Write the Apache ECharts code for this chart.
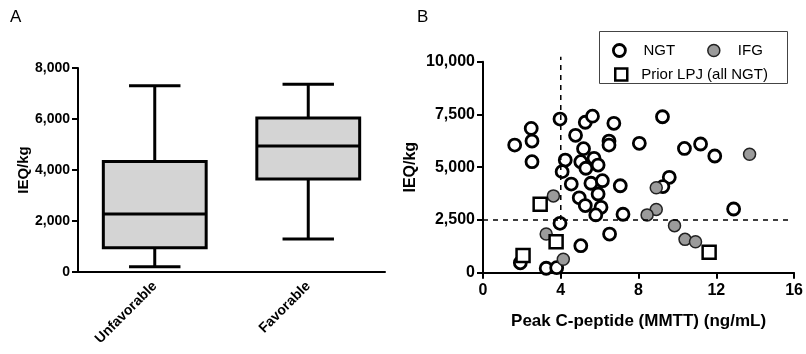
<!DOCTYPE html>
<html>
<head>
<meta charset="utf-8">
<script src="https://cdn.jsdelivr.net/npm/echarts@6/dist/echarts.min.js"></script>
<style>
  html, body { margin: 0; padding: 0; background: #fff; }
  #chart { width: 806px; height: 354px; }
</style>
</head>
<body>
<div id="chart"></div>
<script>
// panel A - box plot summary
const groups = ['Unfavorable', 'Favorable'];
const whiskerLow = [210, 1290];
const q1 = [950, 3650];
const median = [2275, 4940];
const q3 = [4330, 6040];
const whiskerHigh = [7300, 7360];
const yTicksA = [0, 2000, 4000, 6000, 8000];

// panel B - scatter [peak C-peptide, IEQ/kg]
const ngt = [
  [1.63, 6050], [2.48, 6840], [2.52, 6240], [2.52, 5260], [3.96, 7280],
  [5.26, 7130], [5.63, 7420], [6.73, 7080], [4.76, 6510], [5.17, 5880],
  [6.48, 6240], [6.48, 6050], [8.04, 6130], [9.23, 7390], [10.36, 5890],
  [11.19, 6100], [11.92, 5530], [4.23, 5340], [4.07, 4790], [5.03, 5260],
  [5.71, 5420], [5.92, 5100], [5.29, 4950], [4.54, 4200], [5.55, 4240],
  [6.14, 4360], [7.06, 4120], [4.95, 3550], [5.26, 3180], [5.92, 3730],
  [6.07, 3100], [5.8, 2740], [7.2, 2770], [3.96, 2340], [6.51, 1830],
  [5.03, 1280], [9.58, 4520], [9.25, 4080], [12.89, 3020], [1.92, 470],
  [3.25, 210], [3.79, 240]
];
const ifg = [
  [3.62, 3640], [3.25, 1830], [4.13, 640], [8.91, 4030], [8.91, 3000],
  [8.44, 2740], [9.85, 2230], [10.39, 1580], [10.93, 1470], [13.71, 5610]
];
const priorLpj = [[2.94, 3240], [3.76, 1470], [2.06, 810], [11.63, 970]];
const cutoffX = 4;
const cutoffY = 2500;

const chart = echarts.init(document.getElementById('chart'));

const boxData = groups.map(function (g, i) {
  return [i, whiskerLow[i], q1[i], median[i], q3[i], whiskerHigh[i]];
});

function renderBox(params, api) {
  const i = api.value(0);
  const bw = api.size([1, 0])[0] * 0.67;
  const cw = bw * 0.5;
  const pLow = api.coord([i, api.value(1)]);
  const pQ1 = api.coord([i, api.value(2)]);
  const pMed = api.coord([i, api.value(3)]);
  const pQ3 = api.coord([i, api.value(4)]);
  const pHigh = api.coord([i, api.value(5)]);
  const x = pLow[0];
  const st = { stroke: '#000', lineWidth: 3, fill: null };
  return {
    type: 'group',
    children: [
      { type: 'line', shape: { x1: x, y1: pLow[1], x2: x, y2: pQ1[1] }, style: st },
      { type: 'line', shape: { x1: x, y1: pQ3[1], x2: x, y2: pHigh[1] }, style: st },
      { type: 'line', shape: { x1: x - cw / 2, y1: pLow[1], x2: x + cw / 2, y2: pLow[1] }, style: st },
      { type: 'line', shape: { x1: x - cw / 2, y1: pHigh[1], x2: x + cw / 2, y2: pHigh[1] }, style: st },
      { type: 'rect', shape: { x: x - bw / 2, y: pQ3[1], width: bw, height: pQ1[1] - pQ3[1] },
        style: { fill: '#d4d4d4', stroke: '#000', lineWidth: 3 } },
      { type: 'line', shape: { x1: x - bw / 2, y1: pMed[1], x2: x + bw / 2, y2: pMed[1] }, style: st }
    ]
  };
}

const axisLine = { lineStyle: { color: '#000', width: 2 } };
const axisTick = { inside: false, length: 6, lineStyle: { color: '#000', width: 2 } };
const boldLabel = { color: '#000', fontFamily: 'Arial', fontWeight: 'bold', fontSize: 14 };

const ngtStyle = { color: '#fff', borderColor: '#000', borderWidth: 2.8, opacity: 1 };
const ifgStyle = { color: '#9b9b9b', borderColor: '#222', borderWidth: 1.5, opacity: 1 };
const lpjStyle = { color: '#fff', borderColor: '#000', borderWidth: 2.5, opacity: 1 };

const option = {
  animation: false,
  backgroundColor: '#fff',
  textStyle: { fontFamily: 'Arial' },
  graphic: [
    { type: 'text', left: 10, top: 9, style: { text: 'A', fontSize: 17, fontFamily: 'Arial', fill: '#000' } },
    { type: 'text', left: 417, top: 9, style: { text: 'B', fontSize: 17, fontFamily: 'Arial', fill: '#000' } },
    { type: 'rect', shape: { x: 599.5, y: 31.5, width: 188, height: 52 },
      style: { fill: 'none', stroke: '#444', lineWidth: 1 }, z: 10 }
  ],
  legend: [
    {
      data: [
        { name: 'NGT', itemStyle: { borderWidth: 2.8 } },
        { name: 'IFG', itemStyle: { borderWidth: 1.5 } }
      ],
      left: 607, top: 38, itemWidth: 12, itemHeight: 12, itemGap: 32,
      selectedMode: false,
      textStyle: { fontSize: 15, color: '#000', padding: [0, 0, 0, 13] }
    },
    {
      data: [{ name: 'Prior LPJ (all NGT)', itemStyle: { borderWidth: 2.5 } }],
      left: 609, top: 62, itemWidth: 12, itemHeight: 12,
      selectedMode: false,
      textStyle: { fontSize: 15, color: '#000', padding: [0, 0, 0, 9] }
    }
  ],
  grid: [
    { left: 78, top: 68, width: 307, height: 204 },
    { left: 483, top: 61.7, width: 314, height: 211 }
  ],
  xAxis: [
    {
      type: 'category', gridIndex: 0, data: groups, boundaryGap: true,
      axisLine: axisLine, axisTick: Object.assign({ alignWithLabel: true }, axisTick),
      axisLabel: Object.assign({}, boldLabel, { rotate: 45, margin: 12, fontSize: 14 })
    },
    {
      type: 'value', gridIndex: 1, min: 0, max: 16, interval: 4,
      name: 'Peak C-peptide (MMTT) (ng/mL)', nameLocation: 'middle', nameGap: 40,
      nameTextStyle: Object.assign({}, boldLabel, { fontSize: 17 }),
      splitLine: { show: false }, axisLine: axisLine, axisTick: axisTick,
      axisLabel: Object.assign({}, boldLabel, { margin: 10, fontSize: 16 })
    }
  ],
  yAxis: [
    {
      type: 'value', gridIndex: 0, min: yTicksA[0], max: yTicksA[yTicksA.length - 1], interval: 2000,
      name: 'IEQ/kg', nameLocation: 'middle', nameGap: 47,
      nameTextStyle: Object.assign({}, boldLabel, { fontSize: 15 }),
      splitLine: { show: false }, axisLine: Object.assign({ show: true }, axisLine), axisTick: Object.assign({ show: true }, axisTick),
      axisLabel: Object.assign({
        margin: 8,
        formatter: function (v) { return v.toLocaleString('en-US'); }
      }, boldLabel)
    },
    {
      type: 'value', gridIndex: 1, min: 0, max: 10000, interval: 2500,
      name: 'IEQ/kg', nameLocation: 'middle', nameGap: 64,
      nameTextStyle: Object.assign({}, boldLabel, { fontSize: 16 }),
      splitLine: { show: false }, axisLine: Object.assign({ show: true }, axisLine), axisTick: Object.assign({ show: true }, axisTick),
      axisLabel: Object.assign({}, boldLabel, {
        margin: 8, fontSize: 16,
        formatter: function (v) { return v.toLocaleString('en-US'); }
      })
    }
  ],
  series: [
    {
      type: 'custom', xAxisIndex: 0, yAxisIndex: 0, renderItem: renderBox,
      data: boxData, silent: true
    },
    {
      name: 'cutoffH', type: 'line', xAxisIndex: 1, yAxisIndex: 1, clip: false, silent: true,
      symbol: 'none', lineStyle: { color: '#000', width: 1.5, type: [5, 5] },
      data: [[0, cutoffY], [15.9, cutoffY]]
    },
    {
      name: 'cutoffV', type: 'line', xAxisIndex: 1, yAxisIndex: 1, clip: false, silent: true,
      symbol: 'none', lineStyle: { color: '#000', width: 1.5, type: [5, 5] },
      data: [[cutoffX, cutoffY], [cutoffX, 10240]]
    },
    {
      name: 'NGT', type: 'scatter', xAxisIndex: 1, yAxisIndex: 1, symbol: 'circle', symbolSize: 12,
      itemStyle: ngtStyle, emphasis: { disabled: true }, data: ngt
    },
    {
      name: 'IFG', type: 'scatter', xAxisIndex: 1, yAxisIndex: 1, symbol: 'circle', symbolSize: 12,
      itemStyle: ifgStyle, emphasis: { disabled: true }, data: ifg
    },
    {
      name: 'Prior LPJ (all NGT)', type: 'scatter', xAxisIndex: 1, yAxisIndex: 1, symbol: 'rect', symbolSize: 13,
      itemStyle: lpjStyle, emphasis: { disabled: true }, data: priorLpj
    }
  ]
};

chart.setOption(option);
</script>
</body>
</html>
